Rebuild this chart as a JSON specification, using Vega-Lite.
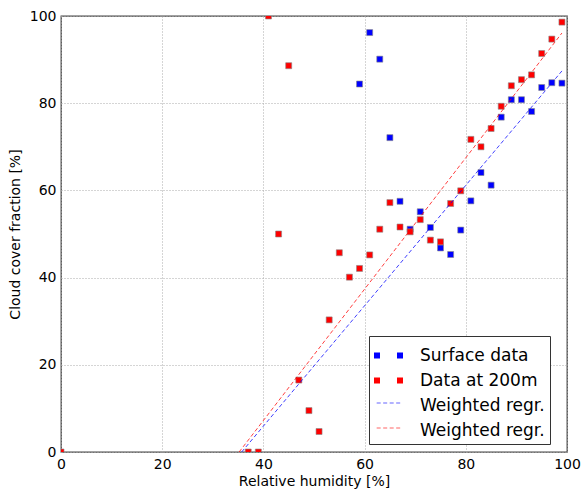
{
  "$schema": "https://vega.github.io/schema/vega-lite/v6.json",
  "width": 506,
  "height": 436,
  "autosize": {"type": "none"},
  "padding": {"left": 61, "top": 16, "right": 15, "bottom": 39},
  "background": "white",
  "config": {
    "view": {"stroke": "#444", "strokeWidth": 1.3},
    "font": "DejaVu Sans",
    "axis": {
      "labelFont": "DejaVu Sans", "labelFontSize": 14, "labelColor": "#000",
      "titleFont": "DejaVu Sans", "titleFontSize": 14, "titleFontWeight": "normal", "titleColor": "#000",
      "domain": false, "ticks": false,
      "gridColor": "#aaa", "gridDash": [1, 2], "gridWidth": 1
    }
  },
  "datasets": {
    "pts": [
      {"rh": 59, "cc": 84.4, "series": "Surface data"},
      {"rh": 61, "cc": 96.2, "series": "Surface data"},
      {"rh": 63, "cc": 90.1, "series": "Surface data"},
      {"rh": 65, "cc": 72.1, "series": "Surface data"},
      {"rh": 67, "cc": 57.5, "series": "Surface data"},
      {"rh": 69, "cc": 51.1, "series": "Surface data"},
      {"rh": 71, "cc": 55.1, "series": "Surface data"},
      {"rh": 73, "cc": 51.5, "series": "Surface data"},
      {"rh": 75, "cc": 46.8, "series": "Surface data"},
      {"rh": 77, "cc": 45.3, "series": "Surface data"},
      {"rh": 79, "cc": 50.9, "series": "Surface data"},
      {"rh": 81, "cc": 57.6, "series": "Surface data"},
      {"rh": 83, "cc": 64.1, "series": "Surface data"},
      {"rh": 85, "cc": 61.2, "series": "Surface data"},
      {"rh": 87, "cc": 76.8, "series": "Surface data"},
      {"rh": 89, "cc": 80.8, "series": "Surface data"},
      {"rh": 91, "cc": 80.8, "series": "Surface data"},
      {"rh": 93, "cc": 78.1, "series": "Surface data"},
      {"rh": 95, "cc": 83.6, "series": "Surface data"},
      {"rh": 97, "cc": 84.7, "series": "Surface data"},
      {"rh": 99, "cc": 84.6, "series": "Surface data"},
      {"rh": 0, "cc": 0, "series": "Data at 200m"},
      {"rh": 37, "cc": 0, "series": "Data at 200m"},
      {"rh": 39, "cc": 0, "series": "Data at 200m"},
      {"rh": 41, "cc": 100, "series": "Data at 200m"},
      {"rh": 43, "cc": 50, "series": "Data at 200m"},
      {"rh": 45, "cc": 88.6, "series": "Data at 200m"},
      {"rh": 47, "cc": 16.5, "series": "Data at 200m"},
      {"rh": 49, "cc": 9.5, "series": "Data at 200m"},
      {"rh": 51, "cc": 4.7, "series": "Data at 200m"},
      {"rh": 53, "cc": 30.3, "series": "Data at 200m"},
      {"rh": 55, "cc": 45.7, "series": "Data at 200m"},
      {"rh": 57, "cc": 40.1, "series": "Data at 200m"},
      {"rh": 59, "cc": 42.1, "series": "Data at 200m"},
      {"rh": 61, "cc": 45.2, "series": "Data at 200m"},
      {"rh": 63, "cc": 51.1, "series": "Data at 200m"},
      {"rh": 65, "cc": 57.2, "series": "Data at 200m"},
      {"rh": 67, "cc": 51.6, "series": "Data at 200m"},
      {"rh": 69, "cc": 50.5, "series": "Data at 200m"},
      {"rh": 71, "cc": 53.3, "series": "Data at 200m"},
      {"rh": 73, "cc": 48.6, "series": "Data at 200m"},
      {"rh": 75, "cc": 48.2, "series": "Data at 200m"},
      {"rh": 77, "cc": 57.0, "series": "Data at 200m"},
      {"rh": 79, "cc": 59.9, "series": "Data at 200m"},
      {"rh": 81, "cc": 71.7, "series": "Data at 200m"},
      {"rh": 83, "cc": 70.0, "series": "Data at 200m"},
      {"rh": 85, "cc": 74.2, "series": "Data at 200m"},
      {"rh": 87, "cc": 79.3, "series": "Data at 200m"},
      {"rh": 89, "cc": 84.0, "series": "Data at 200m"},
      {"rh": 91, "cc": 85.4, "series": "Data at 200m"},
      {"rh": 93, "cc": 86.5, "series": "Data at 200m"},
      {"rh": 95, "cc": 91.4, "series": "Data at 200m"},
      {"rh": 97, "cc": 94.7, "series": "Data at 200m"},
      {"rh": 99, "cc": 98.6, "series": "Data at 200m"}
    ],
    "fits": [
      {"rh": 35.7, "cc": 0, "series": "Weighted regr. (surface)"},
      {"rh": 99, "cc": 87.4, "series": "Weighted regr. (surface)"},
      {"rh": 35.2, "cc": 0, "series": "Weighted regr. (200m)"},
      {"rh": 99, "cc": 96.1, "series": "Weighted regr. (200m)"}
    ]
  },
  "encoding": {
    "x": {
      "field": "rh", "type": "quantitative",
      "scale": {"domain": [0, 100], "nice": false, "zero": false},
      "axis": {"title": "Relative humidity [%]", "values": [0, 20, 40, 60, 80, 100], "labelPadding": 5, "titlePadding": 3, "labelFlush": false}
    },
    "y": {
      "field": "cc", "type": "quantitative",
      "scale": {"domain": [0, 100], "nice": false, "zero": false},
      "axis": {"title": "Cloud cover fraction [%]", "values": [0, 20, 40, 60, 80, 100], "labelPadding": 5, "titlePadding": 7, "labelFlush": false}
    }
  },
  "layer": [
    {
      "data": {"name": "pts"},
      "mark": {"type": "square", "size": 36, "opacity": 1, "stroke": "#888", "strokeWidth": 0.6, "clip": true},
      "encoding": {
        "fill": {
          "field": "series", "type": "nominal",
          "scale": {
            "domain": ["Surface data", "Data at 200m", "Weighted regr. (surface)", "Weighted regr. (200m)"],
            "range": ["#0000ff", "#ff0000", "transparent", "transparent"]
          },
          "legend": {
            "title": null,
            "orient": "none",
            "legendX": 308,
            "legendY": 320,
            "padding": 5,
            "strokeColor": "#333",
            "fillColor": "white",
            "cornerRadius": 0,
            "labelFont": "DejaVu Sans",
            "labelFontSize": 17,
            "labelColor": "#000",
            "labelOffset": 17,
            "symbolSize": 841,
            "symbolType": "M-1,-0.207H-0.586V0.207H-1Z M0.586,-0.207H1V0.207H0.586Z",
            "symbolStrokeWidth": 0,
            "symbolStrokeColor": "transparent",
            "rowPadding": 2,
            "labelExpr": "indexof(datum.value, 'Weighted') >= 0 ? 'Weighted regr.' : datum.value"
          }
        }
      }
    },
    {
      "data": {"name": "fits"},
      "mark": {"type": "line", "strokeWidth": 1, "strokeDash": [4, 2.5], "opacity": 0.75, "clip": true},
      "encoding": {
        "stroke": {
          "field": "series", "type": "nominal",
          "scale": {
            "domain": ["Weighted regr. (surface)", "Weighted regr. (200m)"],
            "range": ["#0000ff", "#ff0000"]
          },
          "legend": {
            "title": null,
            "orient": "none",
            "legendX": 313,
            "legendY": 372,
            "padding": 0,
            "labelFont": "DejaVu Sans",
            "labelFontSize": 17,
            "labelOffset": 17,
            "symbolSize": 841,
            "symbolType": "M-0.85,0H0.85",
            "symbolDash": [4, 2.5],
            "symbolStrokeWidth": 1,
            "symbolOpacity": 0.6,
            "rowPadding": 2,
            "labelExpr": "''"
          }
        }
      }
    }
  ]
}
